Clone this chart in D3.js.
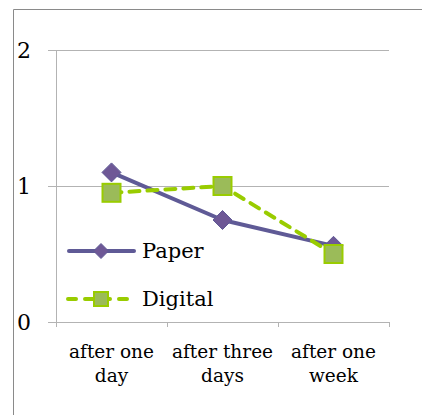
<!DOCTYPE html>
<html>
<head>
<meta charset="utf-8">
<script src="https://cdn.jsdelivr.net/npm/d3@7"></script>
<style>
  html, body { margin: 0; padding: 0; background: #fff; }
  svg { display: block; }
  text { font-family: "DejaVu Serif", "Liberation Serif", serif; fill: #000; }
</style>
</head>
<body>
<svg id="chart" width="422" height="415"></svg>
<script>
// Recall scores by delay
const categories = [["after one", "day"], ["after three", "days"], ["after one", "week"]];
const paperValues = [1.1, 0.75, 0.56];
const digitalValues = [0.95, 1.0, 0.5];
const yTicks = [0, 1, 2];
const seriesNames = ["Paper", "Digital"];

const svg = d3.select("#chart");

// outer frame
svg.append("path")
  .attr("d", "M13.5,415 V9.5 H422")
  .attr("fill", "none").attr("stroke", "#8a8a8a").attr("stroke-width", 1);

const plot = { left: 56, right: 389, top: 50, bottom: 322 };

const x = d3.scaleBand()
  .domain(d3.range(categories.length))
  .range([plot.left, plot.right]);
const y = d3.scaleLinear().domain([0, 2]).range([plot.bottom, plot.top]);

const grey = "#b3b3b3";

// horizontal gridlines (extend slightly left of the axis)
svg.append("g").selectAll("line").data(yTicks).join("line")
  .attr("x1", plot.left - 8).attr("x2", plot.right)
  .attr("y1", d => Math.round(y(d)) + 0.5).attr("y2", d => Math.round(y(d)) + 0.5)
  .attr("stroke", grey).attr("stroke-width", 1);

// y axis line
svg.append("line")
  .attr("x1", plot.left + 0.5).attr("x2", plot.left + 0.5)
  .attr("y1", plot.top).attr("y2", plot.bottom)
  .attr("stroke", grey);

// x axis category ticks
const tickXs = d3.range(categories.length + 1).map(i => i === categories.length ? plot.right : x(i));
svg.append("g").selectAll("line").data(tickXs).join("line")
  .attr("x1", d => Math.round(d) + 0.5).attr("x2", d => Math.round(d) + 0.5)
  .attr("y1", plot.bottom).attr("y2", plot.bottom + 5)
  .attr("stroke", grey);

// y tick labels
svg.append("g").selectAll("text").data(yTicks).join("text")
  .attr("x", 31).attr("y", d => y(d) + 8)
  .attr("text-anchor", "end")
  .attr("font-size", 22)
  .text(d => d);

// category labels
const catG = svg.append("g").selectAll("text").data(categories).join("text")
  .attr("text-anchor", "middle")
  .attr("font-size", 18.5);
catG.each(function(lines, i) {
  const t = d3.select(this);
  lines.forEach((ln, j) => {
    t.append("tspan")
      .attr("x", x(i) + x.bandwidth() / 2)
      .attr("y", 358 + j * 24)
      .text(ln);
  });
});

const paperColor = "#5f5a96";
const paperMarker = "#6e5896";
const digitalColor = "#99cc00";
const digitalMarker = "#9bbb59";

const cx = i => x(i) + x.bandwidth() / 2;
const line = d3.line().x((d, i) => cx(i)).y(d => y(d));

// Paper series
svg.append("path").datum(paperValues)
  .attr("d", line).attr("fill", "none")
  .attr("stroke", paperColor).attr("stroke-width", 4).attr("stroke-linejoin", "round");

// Digital series
svg.append("path").datum(digitalValues)
  .attr("d", line).attr("fill", "none")
  .attr("stroke", digitalColor).attr("stroke-width", 4)
  .attr("stroke-dasharray", "10 8").attr("stroke-linecap", "round");

const diamond = s => `M0,${-s} L${s},0 L0,${s} L${-s},0 Z`;

svg.append("g").selectAll("path").data(paperValues).join("path")
  .attr("transform", (d, i) => `translate(${cx(i)},${y(d)})`)
  .attr("d", diamond(9.5))
  .attr("fill", paperMarker).attr("stroke", paperColor).attr("stroke-width", 1);

svg.append("g").selectAll("rect").data(digitalValues).join("rect")
  .attr("x", (d, i) => cx(i) - 9).attr("y", d => y(d) - 9)
  .attr("width", 18).attr("height", 18)
  .attr("fill", digitalMarker).attr("stroke", digitalColor).attr("stroke-width", 2);

// legend
const legend = svg.append("g");
const legY = [251, 299];
legend.append("line")
  .attr("x1", 69).attr("x2", 134).attr("y1", legY[0]).attr("y2", legY[0])
  .attr("stroke", paperColor).attr("stroke-width", 4).attr("stroke-linecap", "round");
legend.append("path")
  .attr("transform", `translate(101,${legY[0]})`)
  .attr("d", diamond(7.5))
  .attr("fill", paperMarker).attr("stroke", paperColor);
legend.append("line")
  .attr("x1", 68).attr("x2", 135).attr("y1", legY[1]).attr("y2", legY[1])
  .attr("stroke", digitalColor).attr("stroke-width", 4)
  .attr("stroke-dasharray", "8 9").attr("stroke-linecap", "round");
legend.append("rect")
  .attr("x", 94).attr("y", legY[1] - 7).attr("width", 14).attr("height", 14)
  .attr("fill", digitalMarker).attr("stroke", digitalColor).attr("stroke-width", 2);
legend.selectAll("text").data(seriesNames).join("text")
  .attr("x", 142).attr("y", (d, i) => legY[i] + 7)
  .attr("font-size", 21)
  .text(d => d);
</script>
</body>
</html>
